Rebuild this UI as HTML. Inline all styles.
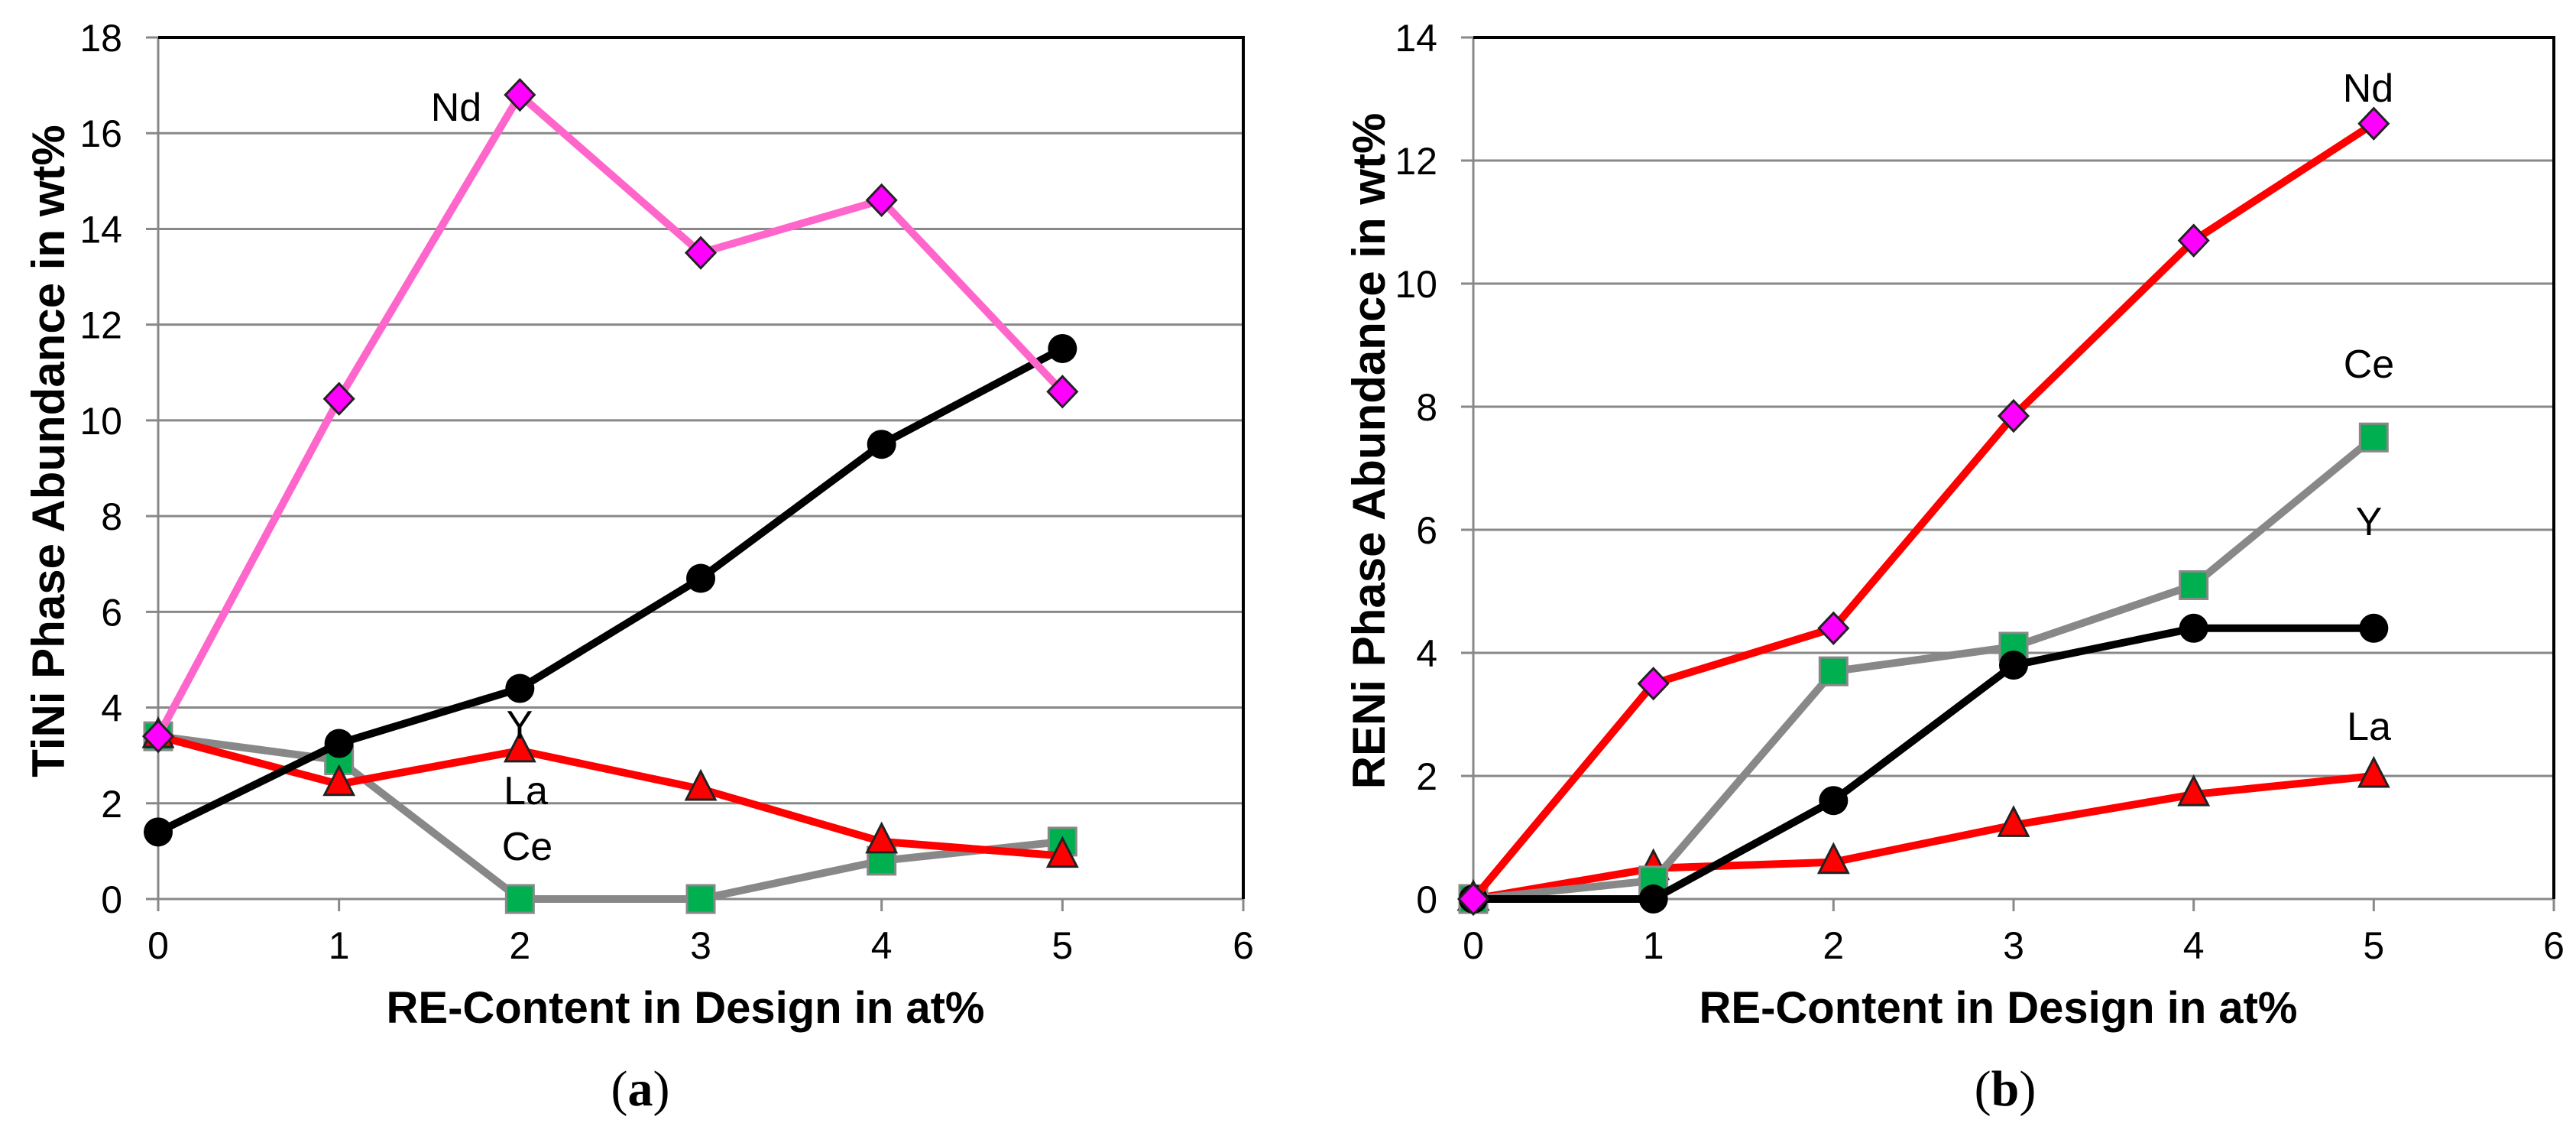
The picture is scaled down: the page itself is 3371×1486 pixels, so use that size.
<!DOCTYPE html>
<html><head><meta charset="utf-8"><style>
html,body{margin:0;padding:0;background:#fff;}
svg{display:block;font-family:"Liberation Sans",sans-serif;}
</style></head><body>
<svg id="fig" width="3371" height="1486" viewBox="0 0 3371 1486" xmlns="http://www.w3.org/2000/svg"></svg>
<script>
const xCats = [0,1,2,3,4,5];
const xTicks = [0,1,2,3,4,5,6];
const aTicks = [0,2,4,6,8,10,12,14,16,18];
const bTicks = [0,2,4,6,8,10,12,14];
const aNd = [3.4,10.45,16.8,13.5,14.6,10.6];
const aY  = [1.4,3.25,4.4,6.7,9.5,11.5];
const aLa = [3.4,2.4,3.1,2.3,1.2,0.9];
const aCe = [3.4,2.9,0,0,0.8,1.2];
const bNd = [0,3.5,4.4,7.85,10.7,12.6];
const bCe = [0,0.3,3.7,4.1,5.1,7.5];
const bY  = [0,0,1.6,3.8,4.4,4.4];
const bLa = [0,0.5,0.6,1.2,1.7,2.0];

const NS="http://www.w3.org/2000/svg";
const svg=document.getElementById('fig');
function mk(tag,attrs,parent){const e=document.createElementNS(NS,tag);for(const k in attrs)e.setAttribute(k,attrs[k]);(parent||svg).appendChild(e);return e;}

function chart(cfg){
  const g=mk('g',{});
  
  
  const X=v=>cfg.x0+(cfg.x1-cfg.x0)*v/6;
  const Y=v=>cfg.y0-(cfg.y0-cfg.yTop)*v/cfg.ymax;
  cfg.yticks.forEach(t=>{
    if(t>0&&t<cfg.ymax){const l=mk('line',{x1:cfg.x0-16,x2:cfg.x1,y1:Y(t),y2:Y(t),stroke:'#888','stroke-width':3},g);
      }
    else {mk('line',{x1:cfg.x0-16,x2:cfg.x0,y1:Y(t),y2:Y(t),stroke:'#888','stroke-width':3},g);}
    const tx=mk('text',{x:cfg.ylx,y:Y(t)+18,'text-anchor':'end','font-size':50,fill:'#000'},g);
    tx.textContent=t;
    
    
  });
  mk('line',{x1:cfg.x0,x2:cfg.x1,y1:cfg.y0,y2:cfg.y0,stroke:'#888','stroke-width':3},g);
  mk('line',{x1:cfg.x0,x2:cfg.x0,y1:cfg.yTop,y2:cfg.y0,stroke:'#888','stroke-width':3},g);
  mk('polyline',{points:`${cfg.x0},${cfg.yTop} ${cfg.x1},${cfg.yTop} ${cfg.x1},${cfg.y0}`,fill:'none',stroke:'#000','stroke-width':4},g);
  xTicks.forEach(t=>{
    mk('line',{x1:X(t),x2:X(t),y1:cfg.y0,y2:cfg.y0+16,stroke:'#888','stroke-width':3},g);
    const tx=mk('text',{x:X(t),y:1254,'text-anchor':'middle','font-size':50,fill:'#000'},g);
    tx.textContent=t;
    
    
  });
  cfg.series.forEach(s=>{
    const sg=mk('g',{},g);
    
    
    mk('polyline',{points:xCats.map((c,i)=>X(c)+','+Y(s.data[i])).join(' '),fill:'none',stroke:s.line,'stroke-width':10,'stroke-linejoin':'round'},sg);
    xCats.forEach((c,i)=>{
      const cx=X(c),cy=Y(s.data[i]);let m;
      if(s.marker==='diamond')m=mk('polygon',{points:`${cx},${cy-20} ${cx+19},${cy} ${cx},${cy+20} ${cx-19},${cy}`,fill:'#ff00ff',stroke:'#222','stroke-width':3},sg);
      else if(s.marker==='circle')m=mk('circle',{cx:cx,cy:cy,r:19,fill:'#000'},sg);
      else if(s.marker==='tri')m=mk('polygon',{points:`${cx},${cy-23} ${cx+19},${cy+14} ${cx-19},${cy+14}`,fill:'#ff0000',stroke:'#222','stroke-width':3},sg);
      else m=mk('rect',{x:cx-18,y:cy-18,width:36,height:36,fill:'#00b050',stroke:'#888','stroke-width':3},sg);
      
      
    });
    const lb=mk('text',{x:s.lx,y:s.ly,'text-anchor':'middle','font-size':52,fill:'#000'},sg);
    lb.textContent=s.label;
    
    
  });
  const xt=mk('text',{x:(cfg.x0+cfg.x1)/2-20,y:1338,'text-anchor':'middle','font-size':58,'font-weight':'bold',fill:'#000'},g);
  xt.textContent='RE-Content in Design in at%';
  
  
  const yt=mk('text',{x:0,y:0,'text-anchor':'middle','font-size':60,'font-weight':'bold',fill:'#000',transform:`translate(${cfg.ytx},${cfg.yty}) rotate(-90)`},g);
  yt.textContent=cfg.ytitle;
  
  
  const cap=mk('text',{x:cfg.capx,y:1446,'text-anchor':'middle','font-size':66,fill:'#000','font-family':'Liberation Serif, serif'},g);
  cap.innerHTML='(<tspan font-weight="bold">'+cfg.cap+'</tspan>)';
  
  
}

chart({name:'chart-a',x0:207,x1:1627,y0:1176,yTop:49,ymax:18,yticks:aTicks,ylx:160,
  ytx:84,yty:590,ytitle:'TiNi Phase Abundance in wt%',capx:838,cap:'a',
  series:[
    {label:'Ce',data:aCe,line:'#888',marker:'sq',lx:690,ly:1125},
    {label:'La',data:aLa,line:'#ff0000',marker:'tri',lx:688,ly:1052},
    {label:'Y',data:aY,line:'#000',marker:'circle',lx:680,ly:966},
    {label:'Nd',data:aNd,line:'#ff66cc',marker:'diamond',lx:597,ly:158}
  ]});
chart({name:'chart-b',x0:1928,x1:3342,y0:1176,yTop:49,ymax:14,yticks:bTicks,ylx:1881,
  ytx:1812,yty:590,ytitle:'RENi Phase Abundance in wt%',capx:2624,cap:'b',
  series:[
    {label:'La',data:bLa,line:'#ff0000',marker:'tri',lx:3100,ly:968},
    {label:'Ce',data:bCe,line:'#888',marker:'sq',lx:3100,ly:494},
    {label:'Y',data:bY,line:'#000',marker:'circle',lx:3100,ly:700},
    {label:'Nd',data:bNd,line:'#ff0000',marker:'diamond',lx:3099,ly:133}
  ]});
</script>
</body></html>
